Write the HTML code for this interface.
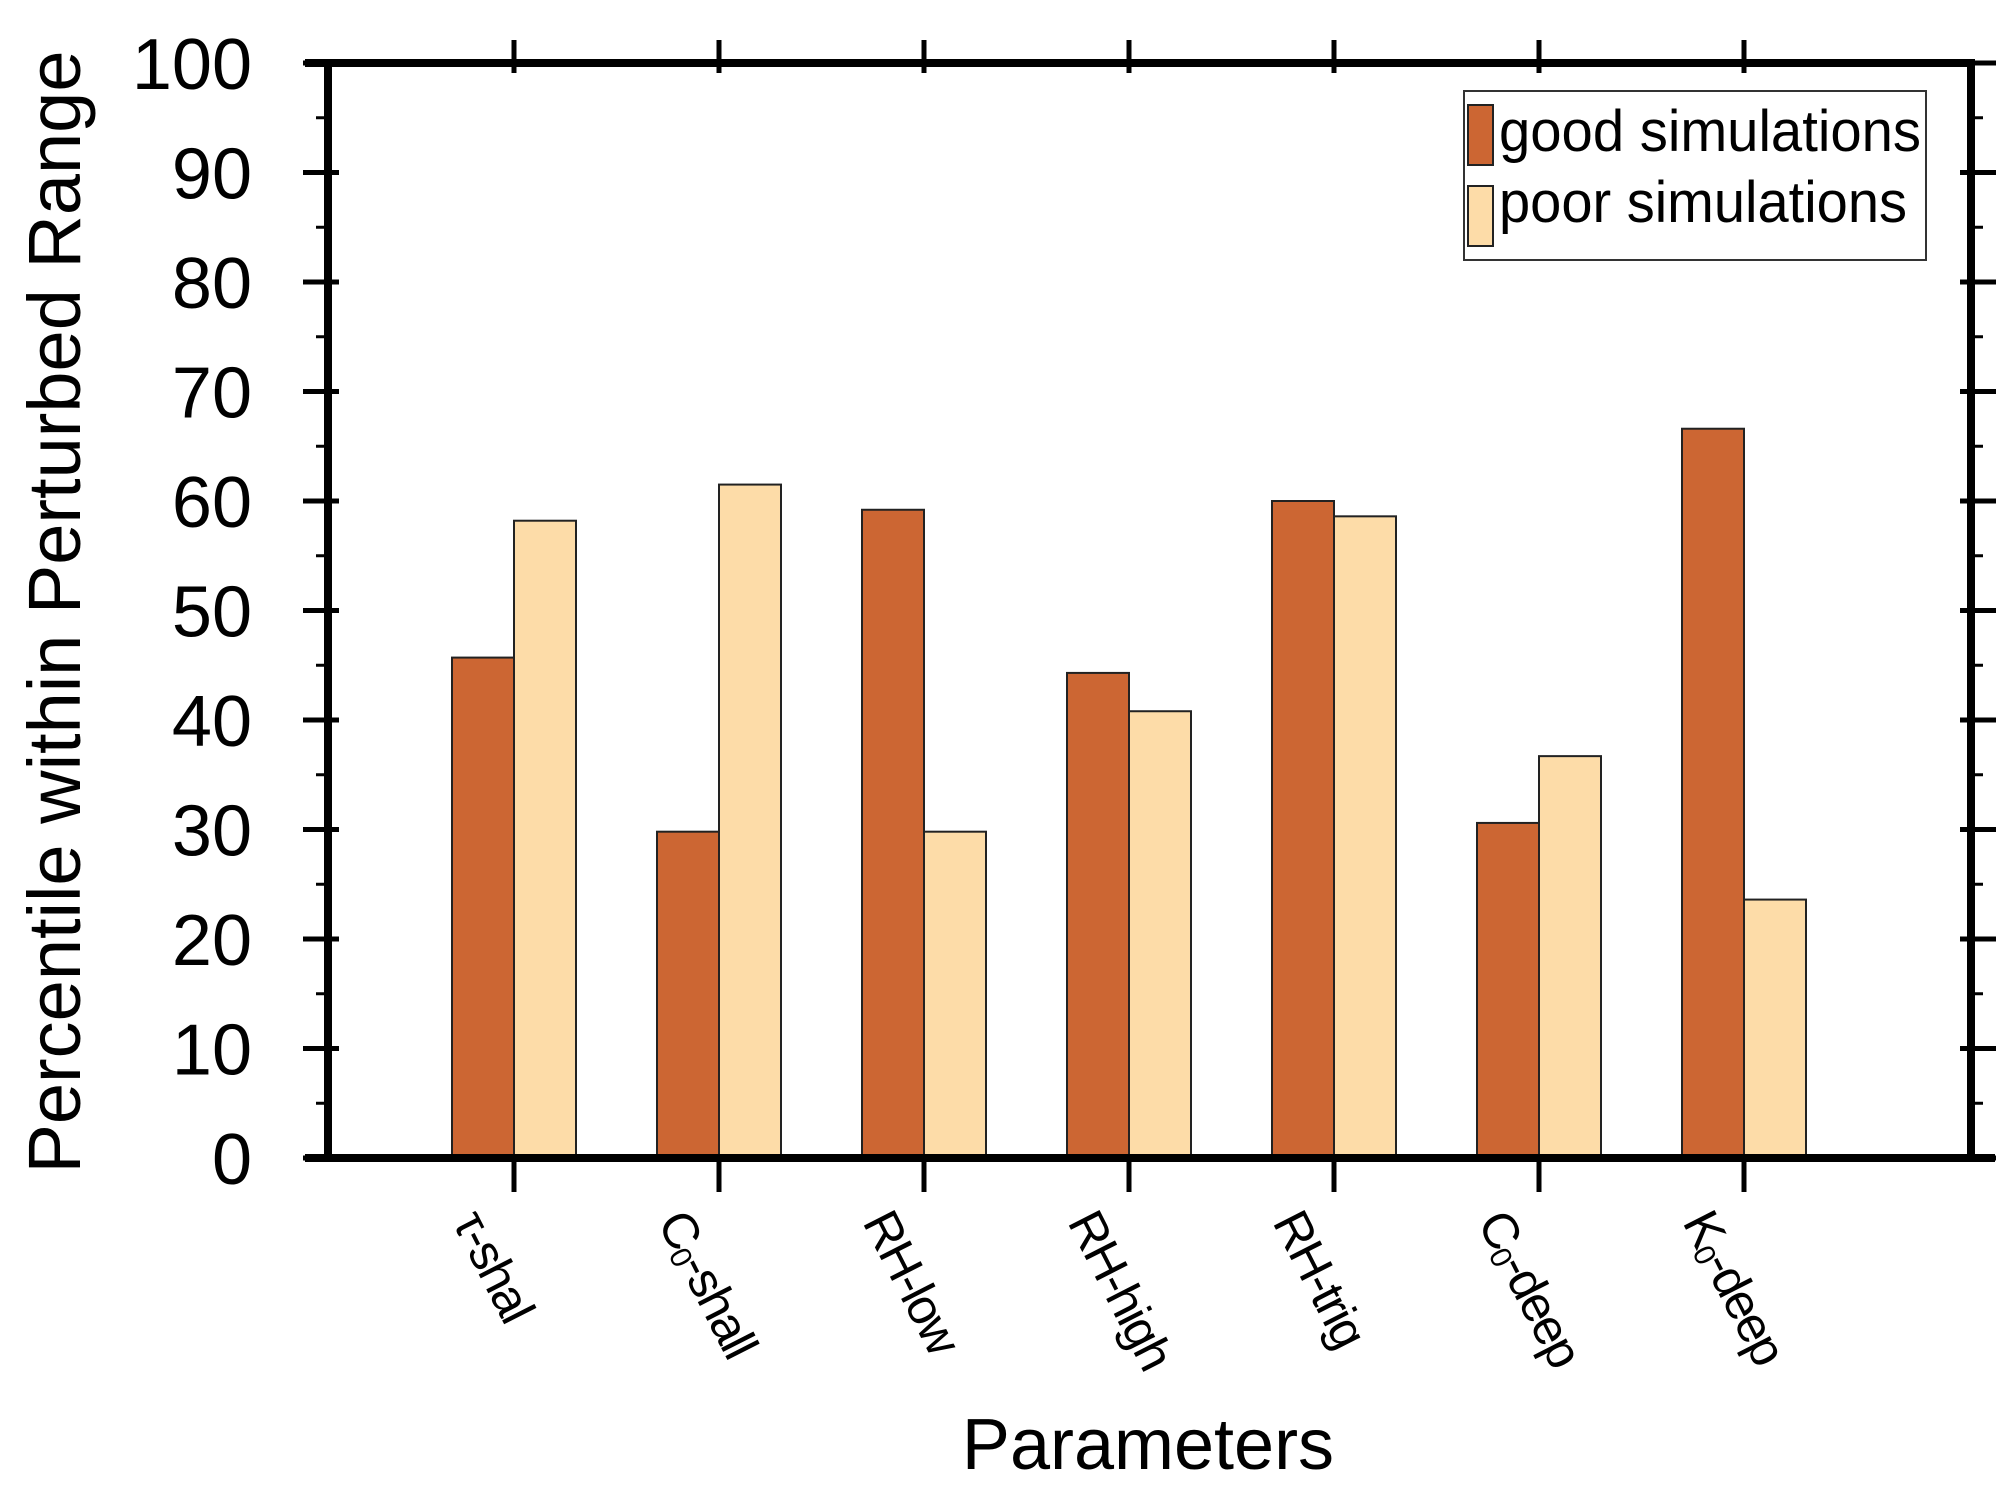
<!DOCTYPE html>
<html><head><meta charset="utf-8"><style>
html,body{margin:0;padding:0;background:#fff;}
svg{display:block;font-family:"Liberation Sans",Arial,sans-serif;}
</style></head><body>
<svg id="chart" width="2016" height="1493" viewBox="0 0 2016 1493">
<g id="bars"></g>
<g id="axes"></g>
<g id="xlabels"></g>
<g id="ylabels"></g>
<text x="80" y="612" font-size="74" text-anchor="middle" transform="rotate(-90 80 612)">Percentile within Perturbed Range</text>
<text x="1148" y="1469" font-size="72" text-anchor="middle">Parameters</text>
<g>
<rect x="1464" y="91" width="462" height="169" fill="#fff" stroke="#333" stroke-width="2"/>
<rect x="1468" y="105" width="25" height="60" fill="#CC6633" stroke="#222" stroke-width="2"/>
<text x="1499" y="151" font-size="58" textLength="422" lengthAdjust="spacingAndGlyphs">good simulations</text>
<rect x="1468" y="186" width="25" height="60" fill="#FDDCA8" stroke="#222" stroke-width="2"/>
<text x="1499" y="222" font-size="58" textLength="408" lengthAdjust="spacingAndGlyphs">poor simulations</text>
</g>
</svg>
<script>
const categories = ["τ-shal","C0-shall","RH-low","RH-high","RH-trig","C0-deep","K0-deep"];
const goodValues = [45.7, 29.8, 59.2, 44.3, 60.0, 30.6, 66.6];
const poorValues = [58.2, 61.5, 29.8, 40.8, 58.6, 36.7, 23.6];
const yTicks = [0,10,20,30,40,50,60,70,80,90,100];

const NS = "http://www.w3.org/2000/svg";
const L = 328, R = 1971, T = 63, B = 1158;
const yScale = v => B - (v / 100) * (B - T);
const x0 = 514, step = 205;
const xScale = i => x0 + step * i;
const barW = 62;
function mk(tag, attrs, parent){const e=document.createElementNS(NS,tag);for(const k in attrs)e.setAttribute(k,attrs[k]);parent.appendChild(e);return e;}

const bars = document.getElementById('bars');
categories.forEach((c,i)=>{
  const cx = xScale(i);
  const g = mk('rect',{x:cx-barW,y:yScale(goodValues[i]),width:barW,height:B-yScale(goodValues[i]),fill:'#CC6633',stroke:'#222','stroke-width':2},bars);
  
  
  const p = mk('rect',{x:cx,y:yScale(poorValues[i]),width:barW,height:B-yScale(poorValues[i]),fill:'#FDDCA8',stroke:'#222','stroke-width':2},bars);
  
  
});

const axes = document.getElementById('axes');
mk('line',{x1:305,y1:T,x2:R+4,y2:T,stroke:'#000','stroke-width':8},axes);
mk('line',{x1:305,y1:B,x2:1995,y2:B,stroke:'#000','stroke-width':8},axes);
mk('line',{x1:L,y1:T,x2:L,y2:B+4,stroke:'#000','stroke-width':8},axes);
mk('line',{x1:R,y1:T-4,x2:R,y2:B+4,stroke:'#000','stroke-width':8},axes);
yTicks.forEach(v=>{
  const y=yScale(v);
  mk('line',{x1:303,y1:y,x2:339,y2:y,stroke:'#000','stroke-width':5},axes);
  mk('line',{x1:R-11,y1:y,x2:R+25,y2:y,stroke:'#000','stroke-width':5},axes);
  if(v<100){const ym=yScale(v+5);
    mk('line',{x1:316,y1:ym,x2:L,y2:ym,stroke:'#000','stroke-width':3},axes);
    mk('line',{x1:R,y1:ym,x2:R+12,y2:ym,stroke:'#000','stroke-width':3},axes);}
});
categories.forEach((c,i)=>{
  const x=xScale(i);
  mk('line',{x1:x,y1:40,x2:x,y2:73,stroke:'#000','stroke-width':5},axes);
  mk('line',{x1:x,y1:B,x2:x,y2:1192,stroke:'#000','stroke-width':5},axes);
});

const yl = document.getElementById('ylabels');
yTicks.forEach(v=>{
  const t=mk('text',{x:252,y:yScale(v)+26,'font-size':72,'text-anchor':'end'},yl);
  t.textContent=String(v);
  
  
});

const xl = document.getElementById('xlabels');
categories.forEach((c,i)=>{
  const x=xScale(i)-62, y=1222;
  const t=mk('text',{x:x,y:y,'font-size':50,'letter-spacing':-2,transform:`rotate(63 ${x} ${y})`},xl);
  
  
  const m=c.match(/^([CK])0(.*)$/);
  if(m){
    const a=document.createElementNS(NS,'tspan');a.textContent=m[1];t.appendChild(a);
    const s=document.createElementNS(NS,'tspan');s.setAttribute('font-size','30');s.setAttribute('dy','5');s.textContent='0';t.appendChild(s);
    const r=document.createElementNS(NS,'tspan');r.setAttribute('dy','-5');r.textContent=m[2];t.appendChild(r);
  } else t.textContent=c;
});
</script>
</body></html>
